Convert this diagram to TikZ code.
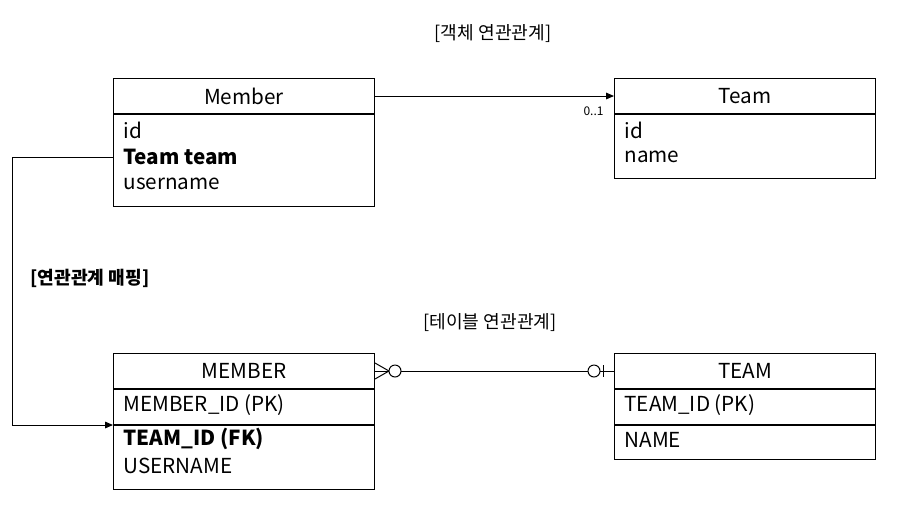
\documentclass[tikz,border=0pt]{standalone}
\usepackage{fontspec}
\setmainfont{Noto Sans CJK KR}
\usetikzlibrary{positioning,arrows.meta,calc}
\begin{document}
\begin{tikzpicture}[x=0.75pt,y=-0.75pt,line width=0.75pt,
    box/.style={draw,minimum width=195.75pt,inner sep=0pt,anchor=north west,font=\fontsize{15.5}{18}\selectfont},
    field/.style={anchor=west,inner sep=0pt,font=\fontsize{15.5}{18}\selectfont},
    bfield/.style={field,font=\fontsize{15.5}{18}\selectfont\bfseries},
    title/.style={font=\fontsize{13.6}{16}\selectfont},
    tip/.style={-{Triangle[length=6pt,width=5pt]}}]
  \useasboundingbox (0,0) rectangle (912,508);

  \node[title] (objtitle) at (493,34) {[객체 연관관계]};
  \node[title] (tbltitle) at (490,323) {[테이블 연관관계]};

  \node[box,minimum height=26.25pt] (mhead) at (113,78) {Member};
  \node[box,minimum height=69pt,below=0pt of mhead] (mbody) {};
  \node[field] (mid) at (123,130) {id};
  \node[bfield] (mteam) at (123,157) {Team team};
  \node[field] (mname) at (123,184) {username};

  \node[box,minimum height=26.25pt] (thead) at (614,78) {Team};
  \node[box,minimum height=48pt,below=0pt of thead] (tbody) {};
  \node[field] (tid) at (624,130) {id};
  \node[field] (tname) at (624,157) {name};

  \draw[tip] (mhead.east) -- (thead.west);
  \node[font=\fontsize{9}{10}\selectfont,anchor=east,inner sep=0pt] (mult) at (604,111) {0..1};

  \node[box,minimum height=26.25pt] (Mhead) at (113,353) {MEMBER};
  \node[box,minimum height=26.25pt,below=0pt of Mhead] (Mrow1) {};
  \node[box,minimum height=48pt,below=0pt of Mrow1] (Mrow2) {};
  \node[field] (Mid) at (123,405) {MEMBER\_ID (PK)};
  \node[bfield] (Mteam) at (123,439) {TEAM\_ID (FK)};
  \node[field] (Mname) at (123,466) {USERNAME};

  \node[box,minimum height=26.25pt] (Thead) at (614,353) {TEAM};
  \node[box,minimum height=26.25pt,below=0pt of Thead] (Trow1) {};
  \node[box,minimum height=25.5pt,below=0pt of Trow1] (Trow2) {};
  \node[field] (Tid) at (624,405) {TEAM\_ID (PK)};
  \node[field] (Tname) at (624,440) {NAME};

  \draw (Mhead.east) -- (Thead.west);
  \draw ($(Mhead.east)+(0,-8)$) -- ($(Mhead.east)+(14,0)$) -- ($(Mhead.east)+(0,8)$);
  \draw[fill=white] ($(Mhead.east)+(20,0)$) circle (4.5pt);
  \draw[fill=white] ($(Thead.west)+(-20,0)$) circle (4.5pt);
  \draw ($(Thead.west)+(-11,-6)$) -- ($(Thead.west)+(-11,6)$);

  \draw[tip] (mbody.west |- mteam) -- ++(-101,0) |- (Mrow2.north west);
  \node[font=\fontsize{13.6}{16}\selectfont\bfseries] (maplabel) at (90,278) {[연관관계 매핑]};
\end{tikzpicture}
\end{document}
